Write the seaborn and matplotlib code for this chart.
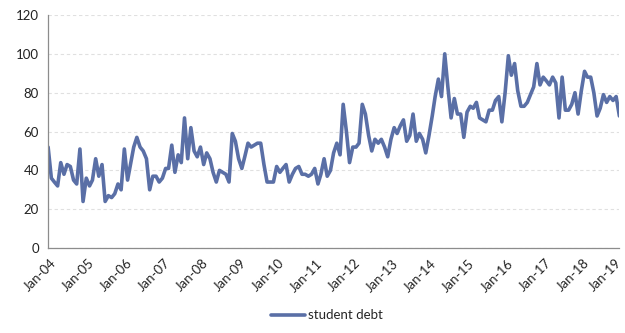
import matplotlib
matplotlib.use("Agg")
import matplotlib.pyplot as plt
import matplotlib.dates as mdates
import matplotlib.transforms as mtransforms
import pandas as pd
import seaborn as sns

# Monthly index values, Jan-2004 .. Jan-2019
start_month = "2004-01-01"
months_count = 181
series_name = "student debt"

debt_2004_2007 = [52, 36, 34, 32, 44, 38, 43, 42, 35, 33, 51, 24,
                  36, 32, 35, 46, 37, 43, 24, 27, 26, 28, 33, 30,
                  51, 35, 43, 52, 57, 52, 50, 46, 30, 37, 37, 34,
                  36, 41, 41, 53, 39, 48, 44, 67, 46, 62, 50, 47]
debt_2008_2011 = [52, 43, 49, 46, 39, 34, 40, 39, 38, 34, 59, 55,
                  46, 41, 47, 54, 52, 53, 54, 54, 43, 34, 34, 34,
                  42, 39, 41, 43, 34, 38, 41, 42, 38, 38, 37, 38,
                  41, 33, 38, 46, 37, 40, 49, 54, 48, 74, 60, 44]
debt_2012_2015 = [52, 52, 54, 74, 69, 58, 50, 56, 54, 56, 52, 47,
                  56, 62, 59, 63, 66, 55, 58, 69, 55, 59, 56, 49,
                  58, 68, 78, 87, 78, 100, 83, 67, 77, 69, 69, 57,
                  70, 73, 72, 75, 67, 66, 65, 71, 71, 76, 78, 65]
debt_2016_2019 = [80, 99, 89, 95, 81, 73, 73, 75, 79, 83, 95, 84,
                  88, 86, 84, 88, 85, 67, 88, 71, 71, 74, 80, 69,
                  81, 91, 88, 88, 80, 68, 72, 79, 75, 78, 76, 78,
                  68]

values = debt_2004_2007 + debt_2008_2011 + debt_2012_2015 + debt_2016_2019
dates = pd.date_range(start_month, periods=months_count, freq="MS")
df = pd.DataFrame({"date": dates, "value": values, "series": series_name})

y_ticks = [0, 20, 40, 60, 80, 100, 120]

sns.set_theme(style="white")
plt.rcParams["font.family"] = ["Lato", "DejaVu Sans"]

line_color = "#5a6fa6"
axis_color = "#8c8c8c"

fig = plt.figure(figsize=(6.25, 3.33), dpi=100)
ax = fig.add_axes([0.077, 0.255, 0.914, 0.70])

sns.lineplot(data=df, x="date", y="value", hue="series",
             palette=[line_color], linewidth=2.6, ax=ax, legend=False)

ax.set_xlim(dates[0], dates[-1])
ax.set_ylim(0, 120)
ax.set_yticks(y_ticks)
ax.yaxis.grid(True, linestyle=(0, (3, 2.5)), color="#e0e0e0", linewidth=0.8)
ax.xaxis.grid(False)
ax.set_axisbelow(True)

ax.xaxis.set_major_locator(mdates.YearLocator(1, month=1, day=1))
ax.xaxis.set_major_formatter(mdates.DateFormatter("%b-%y"))

ax.tick_params(axis="both", which="major", labelsize=9.5, colors="#222222",
               length=3.5, width=0.8, direction="out", pad=3)
ax.tick_params(axis="both", color=axis_color)
ax.set_xlabel("")
ax.set_ylabel("")

# nudge the rotated date labels so their ends sit just past each tick;
# the last one is centred on its anchor so it stays inside the figure
nudge = mtransforms.ScaledTranslation(1.5 / 100, 0, fig.dpi_scale_trans)
drop = mtransforms.ScaledTranslation(0, -4 / 100, fig.dpi_scale_trans)
xlabels = ax.get_xticklabels()
for i, lbl in enumerate(xlabels):
    lbl.set_rotation(45)
    lbl.set_ha("right")
    lbl.set_rotation_mode("anchor")
    if i < len(xlabels) - 1:
        lbl.set_transform(lbl.get_transform() + nudge)
    else:
        lbl.set_va("center")
        lbl.set_transform(lbl.get_transform() + drop)

for side in ["top", "right"]:
    ax.spines[side].set_visible(False)
for side in ["left", "bottom"]:
    ax.spines[side].set_color(axis_color)
    ax.spines[side].set_linewidth(0.9)

handle = plt.Line2D([], [], color=line_color, linewidth=2.6)
fig.legend([handle], [series_name], loc="lower center",
           bbox_to_anchor=(0.523, 0.0), frameon=False, fontsize=9.5,
           handlelength=2.6, handletextpad=0.2)

fig.savefig("out.png", dpi=100)
